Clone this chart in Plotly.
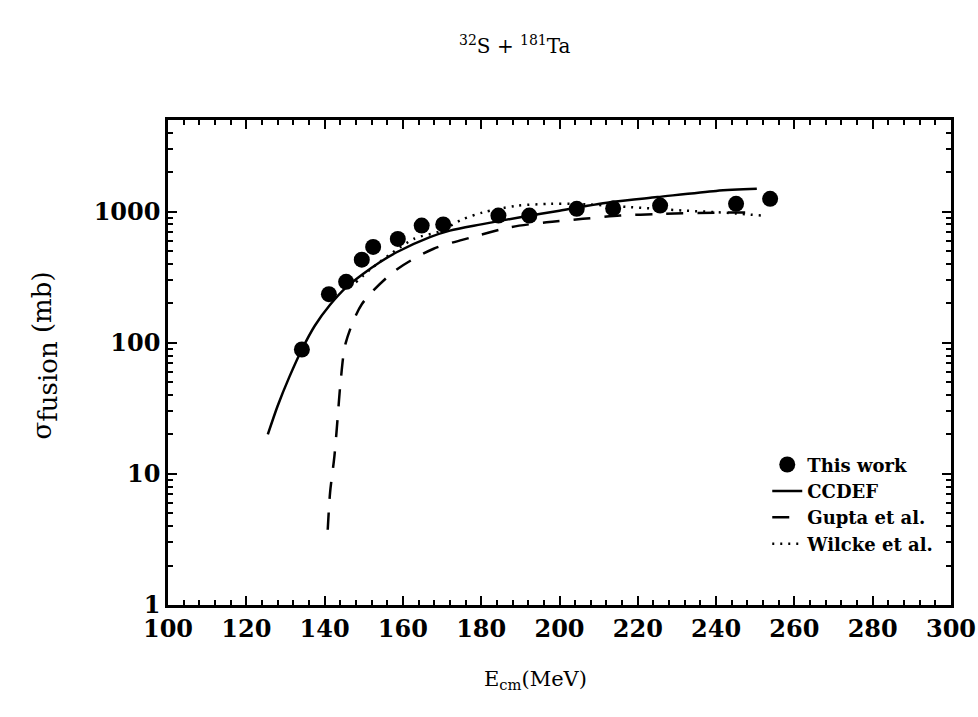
import plotly.graph_objects as go

# Data
e_exp = [134.2, 141.1, 145.5, 149.5, 152.4, 158.7, 164.8, 170.3, 184.4, 192.3, 204.4, 213.7, 225.7, 245.1, 253.8]
sig_exp = [89, 235, 292, 431, 539, 621, 784, 800, 935, 935, 1052, 1060, 1115, 1150, 1255]

e_ccdef = [125.5, 128.0, 131.0, 134.2, 137.5, 141.4, 145.5, 149.8, 154.0, 158.4, 166.9, 172.0, 180.0, 190.0, 200.0, 213.7, 225.0, 240.0, 250.4]
sig_ccdef = [20, 33, 55, 89, 135, 195, 265, 335, 410, 491, 640, 718, 801, 909, 1019, 1191, 1294, 1443, 1497]

e_gupta = [140.8, 141.4, 142.5, 143.3, 144.1, 145.4, 149.5, 158.0, 167.7, 177.6, 187.4, 196.7, 206.0, 215.5, 225.0, 240.0, 250.4]
sig_gupta = [3.75, 7.2, 13.6, 26, 51, 100, 197, 355, 520, 639, 762, 832, 883, 935, 960, 985, 990]

e_wilcke = [148.0, 152.0, 157.0, 163.0, 169.5, 175.0, 180.5, 189.0, 197.6, 204.0, 218.0, 231.6, 240.0, 252.0]
sig_wilcke = [290, 370, 480, 625, 710, 870, 990, 1110, 1150, 1150, 1085, 1021, 993, 935]

x_ticks = [100, 120, 140, 160, 180, 200, 220, 240, 260, 280, 300]
y_ticks = [1, 10, 100, 1000]
y_minor = [m * 10 ** d for d in range(4) for m in range(2, 10) if m * 10 ** d <= 5000]

FONT = "DejaVu Serif"

fig = go.Figure()
fig.add_trace(go.Scatter(x=e_exp, y=sig_exp, mode="markers", name="This work",
                         marker=dict(color="black", size=16)))
fig.add_trace(go.Scatter(x=e_ccdef, y=sig_ccdef, mode="lines", name="CCDEF",
                         line=dict(color="black", width=2.5, shape="spline", smoothing=0.8)))
fig.add_trace(go.Scatter(x=e_gupta, y=sig_gupta, mode="lines", name="Gupta et al.",
                         line=dict(color="black", width=2.5, dash="17px,14px", shape="spline", smoothing=0.8)))
fig.add_trace(go.Scatter(x=e_wilcke, y=sig_wilcke, mode="lines", name="Wilcke et al.",
                         line=dict(color="black", width=2.5, dash="2px,6px", shape="spline", smoothing=0.8)))

axis_common = dict(showgrid=False, zeroline=False, showline=True, linecolor="black", linewidth=2.5,
                   mirror="ticks", ticks="inside", ticklen=9, tickwidth=2, tickcolor="black",
                   automargin=False,
                   tickfont=dict(family=FONT, size=24, color="black", weight="bold"))

fig.update_xaxes(range=[100, 300], tickvals=x_ticks, ticktext=[str(v) for v in x_ticks],
                 minor=dict(ticks="inside", dtick=4, ticklen=5, tickwidth=1.5, tickcolor="black"),
                 ticklabeloverflow="allow", **axis_common)
fig.update_yaxes(type="log", range=[0, 3.7], tickvals=y_ticks, ticktext=[str(v) for v in y_ticks],
                 minor=dict(ticks="inside", tickvals=y_minor, ticklen=5, tickwidth=1.5, tickcolor="black"),
                 **axis_common)

fig.update_layout(
    width=978, height=717,
    margin=dict(l=168, r=27, t=120, b=112, autoexpand=False),
    paper_bgcolor="white", plot_bgcolor="white",
    showlegend=True,
    legend=dict(x=0.985, y=0.088, xanchor="right", yanchor="bottom", bgcolor="rgba(0,0,0,0)",
                font=dict(family=FONT, size=18, color="black", weight="bold"),
                tracegroupgap=0, itemwidth=30),
    annotations=[
        dict(text="<sup>32</sup>S + <sup>181</sup>Ta", xref="paper", yref="paper",
             x=0.443, y=1.155, xanchor="center", yanchor="middle", showarrow=False,
             font=dict(family=FONT, size=20, color="black")),
        dict(text="E<sub>cm</sub>(MeV)", xref="paper", yref="paper",
             x=0.469, y=-0.155, xanchor="center", yanchor="middle", showarrow=False,
             font=dict(family=FONT, size=21, color="black")),
        dict(text="σ<sub><span style='font-size:26px'>fusion</span></sub> (mb)", xref="paper", yref="paper",
             x=-0.158, y=0.515, xanchor="center", yanchor="middle", showarrow=False, textangle=-90,
             font=dict(family=FONT, size=26, color="black")),
    ],
)

fig.write_html("out.html", config={"displayModeBar": False},
               post_script="document.body.style.margin='0';")
